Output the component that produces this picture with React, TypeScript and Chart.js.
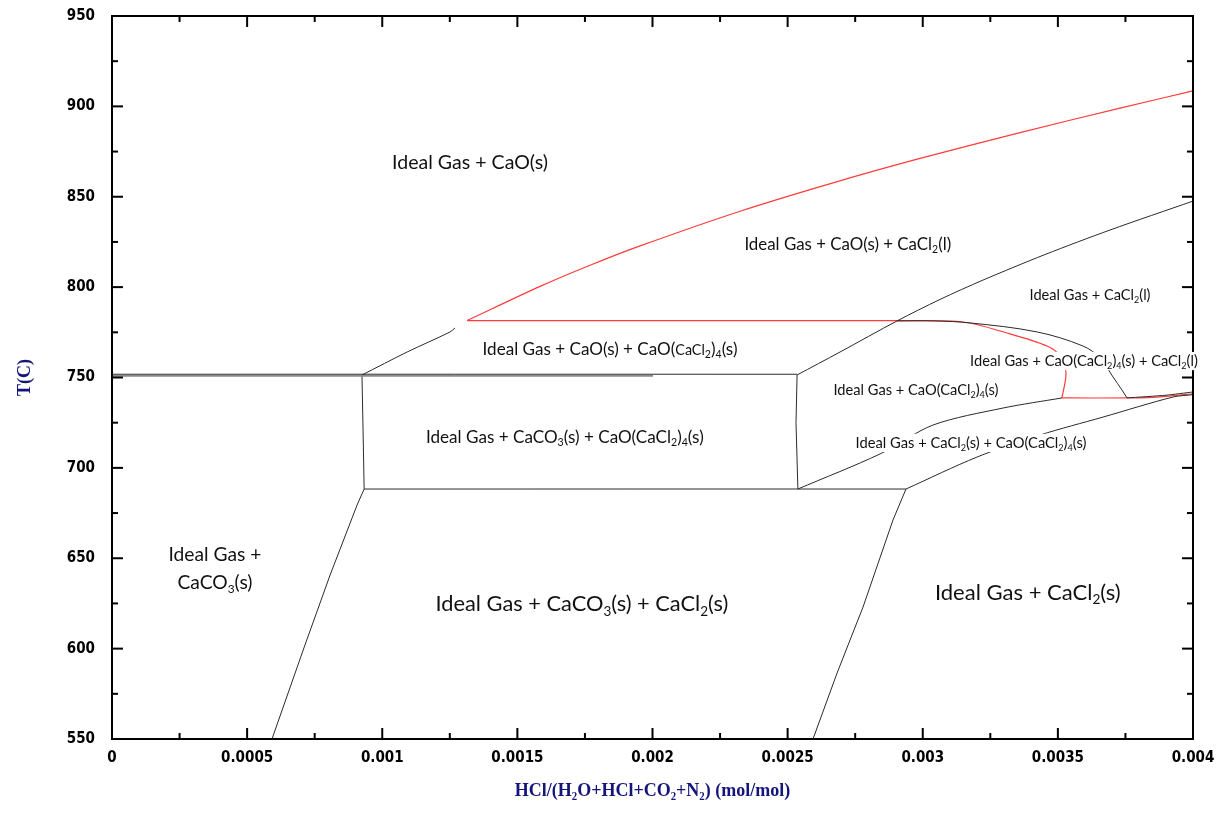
import React, { useEffect, useRef } from 'react';
import { Chart, registerables } from 'chart.js';

Chart.register(...registerables);

// ---------- axis values ----------
const X_TICKS = [0, 0.0005, 0.001, 0.0015, 0.002, 0.0025, 0.003, 0.0035, 0.004];
const X_TICK_LABELS = ['0', '0.0005', '0.001', '0.0015', '0.002', '0.0025', '0.003', '0.0035', '0.004'];
const Y_TICKS = [550, 600, 650, 700, 750, 800, 850, 900, 950];
const Y_TICK_LABELS = ['550', '600', '650', '700', '750', '800', '850', '900', '950'];
const X_MIN = 0, X_MAX = 0.004, Y_MIN = 550, Y_MAX = 950;

// ---------- phase boundaries [HCl mole fraction, T(C)] ----------
type Pt = [number, number];
const CAO_LIQ_RED: Pt[] = [
  [0.001314, 781.5], [0.001584, 800.4], [0.001769, 812.1], [0.001954, 822.8], [0.002324, 842.0],
  [0.002668, 857.7], [0.00299, 871.2], [0.00336, 885.5], [0.00373, 899.0], [0.004, 908.6],
];
const CAO_CACL4_UPPER: Pt[] = [[0.000925, 751.4], [0.001092, 764.1], [0.001251, 775.2], [0.001269, 777.4]];
const T782_RED: Pt[] = [[0.001314, 781.5], [0.002905, 781.5]];
const CACL2_LIQ_BLACK: Pt[] = [
  [0.002535, 751.4], [0.002694, 764.1], [0.002905, 781.3], [0.003064, 793.2], [0.003223, 803.9],
  [0.003452, 818.0], [0.003693, 831.6], [0.004, 847.6],
];
const T752_BLACK: Pt[] = [[0, 751.8], [0.002535, 751.8]];
const T751_GREY: Pt[] = [[0, 750.9], [0.002002, 750.9]];
const VERT_LEFT: Pt[] = [[0.000925, 751.4], [0.000929, 721], [0.000933, 688.3]];
const T688_BLACK: Pt[] = [[0.000933, 688.3], [0.002938, 688.3]];
const VERT_RIGHT: Pt[] = [[0.002535, 751.4], [0.002531, 725], [0.002538, 688.3]];
const CACO3_LOWER_LEFT: Pt[] = [[0.000933, 688.3], [0.000907, 679.5], [0.000807, 640.7], [0.000714, 602], [0.000592, 550]];
const CACL2S_LOWER_RIGHT: Pt[] = [[0.002938, 688.3], [0.00289, 671.2], [0.002779, 623], [0.002683, 586.5], [0.002594, 550]];
const CACL4_CACL2S_A: Pt[] = [[0.002538, 688.3], [0.002842, 707.7], [0.003038, 723.7], [0.003297, 733.1], [0.003515, 738.7]];
const CACL4_CACL2S_B: Pt[] = [[0.002938, 688.3], [0.003201, 706], [0.003434, 718.2], [0.003667, 728.1], [0.003926, 739.2], [0.004, 740.5]];
const EUTECTIC_RED: Pt[] = [[0.003515, 738.7], [0.00378, 738.7], [0.0039, 739.6], [0.004, 741]];
const EUTECTIC_BLACK: Pt[] = [[0.003756, 738.7], [0.0039, 740.2], [0.004, 742]];
const LIQUIDUS_BLACK: Pt[] = [
  [0.002905, 781.3], [0.003045, 781.3], [0.003175, 780.2], [0.003423, 775.2], [0.003593, 767.4],
  [0.003656, 760.8], [0.003704, 750.3], [0.003737, 743.1], [0.003756, 738.7],
];
const LIQUIDUS_RED: Pt[] = [
  [0.002905, 781.5], [0.003149, 780.7], [0.003312, 774.6], [0.00346, 767.4], [0.003508, 761.9],
  [0.00353, 752.5], [0.003515, 738.7],
];

const RED = '#ff3b3b';
const BLACK = '#2a2a2a';

const LINES: { pts: Pt[]; color: string; width: number; curve: number }[] = [
  { pts: T751_GREY, color: '#8a8a8a', width: 1.6, curve: 0 },
  { pts: T752_BLACK, color: BLACK, width: 1, curve: 0 },
  { pts: CAO_CACL4_UPPER, color: BLACK, width: 1, curve: 0.3 },
  { pts: CACL2_LIQ_BLACK, color: BLACK, width: 1, curve: 0.3 },
  { pts: VERT_LEFT, color: BLACK, width: 1, curve: 0 },
  { pts: T688_BLACK, color: BLACK, width: 1, curve: 0 },
  { pts: VERT_RIGHT, color: BLACK, width: 1, curve: 0 },
  { pts: CACO3_LOWER_LEFT, color: BLACK, width: 1, curve: 0 },
  { pts: CACL2S_LOWER_RIGHT, color: BLACK, width: 1, curve: 0 },
  { pts: CACL4_CACL2S_A, color: BLACK, width: 1, curve: 0.3 },
  { pts: CACL4_CACL2S_B, color: BLACK, width: 1, curve: 0.3 },
  { pts: EUTECTIC_BLACK, color: BLACK, width: 1, curve: 0.2 },
  { pts: LIQUIDUS_BLACK, color: BLACK, width: 1, curve: 0.35 },
  { pts: CAO_LIQ_RED, color: RED, width: 1.2, curve: 0.3 },
  { pts: T782_RED, color: RED, width: 1.2, curve: 0 },
  { pts: EUTECTIC_RED, color: RED, width: 1.2, curve: 0.2 },
  { pts: LIQUIDUS_RED, color: RED, width: 1.2, curve: 0.3 },
];

// ---------- region labels: _{..} subscript, ~{..} smaller text ----------
const REGION_LABELS: { text: string; x: number; t: number; w: number }[] = [
  { text: 'Ideal Gas + CaO(s)', x: 0.001325, t: 869.2, w: 156 },
  { text: 'Ideal Gas + CaO(s) + CaCl_{2}(l)', x: 0.002723, t: 823.9, w: 207 },
  { text: 'Ideal Gas + CaCl_{2}(l)', x: 0.003619, t: 795.6, w: 121 },
  { text: 'Ideal Gas + CaO(s) + CaO(~{CaCl}_{2})_{4}(s)', x: 0.001843, t: 765.8, w: 255 },
  { text: 'Ideal Gas + CaO(CaCl_{2})_{4}(s) + CaCl_{2}(l)', x: 0.003597, t: 759.1, w: 228 },
  { text: 'Ideal Gas + CaO(CaCl_{2})_{4}(s)', x: 0.002975, t: 743.1, w: 165 },
  { text: 'Ideal Gas + CaCO_{3}(s) + CaO(CaCl_{2})_{4}(s)', x: 0.001676, t: 717.1, w: 278 },
  { text: 'Ideal Gas + CaCl_{2}(s) + CaO(CaCl_{2})_{4}(s)', x: 0.003179, t: 713.8, w: 231 },
  { text: 'Ideal Gas +', x: 0.000381, t: 651.9, w: 93 },
  { text: 'CaCO_{3}(s)', x: 0.000381, t: 636.4, w: 75 },
  { text: 'Ideal Gas + CaCO_{3}(s) + CaCl_{2}(s)', x: 0.001739, t: 624.7, w: 293 },
  { text: 'Ideal Gas + CaCl_{2}(s)', x: 0.003389, t: 631.3, w: 186 },
];

const LABEL_FAMILY = 'Lato, "Open Sans", "Noto Sans", sans-serif';
const TICK_FAMILY = '"DejaVu Sans Condensed", "DejaVu Sans", sans-serif';
const TITLE_FAMILY = '"Liberation Serif", "Times New Roman", "DejaVu Serif", serif';
const NAVY = '#14147a';

type Seg = { t: string; k: 'n' | 'sub' | 'small' };
function parseRich(s: string): Seg[] {
  return s
    .split(/(_\{[^}]*\}|~\{[^}]*\})/)
    .filter((p) => p.length > 0)
    .map((p) =>
      p.startsWith('_{') ? { t: p.slice(2, -1), k: 'sub' as const } :
      p.startsWith('~{') ? { t: p.slice(2, -1), k: 'small' as const } :
      { t: p, k: 'n' as const });
}
function segFont(k: Seg['k'], size: number) {
  const s = k === 'sub' ? size * 0.62 : k === 'small' ? size * 0.84 : size;
  return `${s}px ${LABEL_FAMILY}`;
}
function measureRich(ctx: CanvasRenderingContext2D, segs: Seg[], size: number) {
  let w = 0;
  for (const g of segs) {
    ctx.font = segFont(g.k, size);
    w += ctx.measureText(g.t).width;
  }
  return w;
}

function midpoints(a: number[]) {
  const out: number[] = [];
  for (let i = 0; i < a.length - 1; i++) out.push((a[i] + a[i + 1]) / 2);
  return out;
}

const framePlugin = {
  id: 'frameAndLabels',
  afterDatasetsDraw(chart: any) {
    const { ctx, chartArea, scales } = chart;
    const { left, right, top, bottom } = chartArea;
    const xs = scales.x, ys = scales.y;
    ctx.save();
    ctx.strokeStyle = '#000';
    ctx.lineWidth = 2;
    ctx.strokeRect(left, top, right - left, bottom - top);
    const tick = (x1: number, y1: number, x2: number, y2: number) => {
      ctx.beginPath();
      ctx.moveTo(x1, y1);
      ctx.lineTo(x2, y2);
      ctx.stroke();
    };
    const MAJ = 11, MIN = 6;
    X_TICKS.forEach((v) => {
      const p = xs.getPixelForValue(v);
      tick(p, bottom, p, bottom - MAJ);
      tick(p, top, p, top + MAJ);
    });
    midpoints(X_TICKS).forEach((v) => {
      const p = xs.getPixelForValue(v);
      tick(p, bottom, p, bottom - MIN);
      tick(p, top, p, top + MIN);
    });
    Y_TICKS.forEach((v) => {
      const p = ys.getPixelForValue(v);
      tick(left, p, left + MAJ, p);
      tick(right, p, right - MAJ, p);
    });
    midpoints(Y_TICKS).forEach((v) => {
      const p = ys.getPixelForValue(v);
      tick(left, p, left + MIN, p);
      tick(right, p, right - MIN, p);
    });

    // region labels with white text boxes
    ctx.textBaseline = 'alphabetic';
    ctx.textAlign = 'left';
    for (const lab of REGION_LABELS) {
      const segs = parseRich(lab.text);
      const w100 = measureRich(ctx, segs, 100);
      const size = (100 * lab.w) / w100;
      const cx = xs.getPixelForValue(lab.x);
      const cy = ys.getPixelForValue(lab.t);
      const x0 = cx - lab.w / 2;
      ctx.fillStyle = '#fff';
      ctx.fillRect(x0 - 3, cy - size * 0.62, lab.w + 6, size * 1.24);
      ctx.fillStyle = '#111';
      const base = cy + size * 0.34;
      let x = x0;
      for (const g of segs) {
        ctx.font = segFont(g.k, size);
        const y = g.k === 'sub' ? base + size * 0.2 : base;
        ctx.fillText(g.t, x, y);
        x += ctx.measureText(g.t).width;
      }
    }
    ctx.restore();
  },
};

export default function App() {
  const ref = useRef<HTMLCanvasElement | null>(null);
  useEffect(() => {
    if (!ref.current) return;
    const chart = new Chart(ref.current, {
      type: 'scatter',
      data: {
        datasets: LINES.map((l) => ({
          data: l.pts.map(([x, t]) => ({ x, y: t })),
          showLine: true,
          borderColor: l.color,
          backgroundColor: l.color,
          borderWidth: l.width,
          pointRadius: 0,
          pointHoverRadius: 0,
          fill: false,
          tension: l.curve,
        })),
      },
      options: {
        animation: false,
        responsive: true,
        maintainAspectRatio: false,
        events: [],
        layout: { padding: { top: 16, right: 30, bottom: 0, left: 0 } },
        plugins: { legend: { display: false }, tooltip: { enabled: false } },
        scales: {
          x: {
            type: 'linear',
            min: X_MIN,
            max: X_MAX,
            grid: { display: false, drawTicks: false },
            border: { display: false },
            afterBuildTicks: (s: any) => { s.ticks = X_TICKS.map((v) => ({ value: v })); },
            afterFit: (s: any) => {
              s.height = 74;
              s.paddingLeft = 0; s.paddingRight = 0; s.paddingTop = 0; s.paddingBottom = 0;
            },
            ticks: {
              autoSkip: false,
              maxRotation: 0,
              padding: 12,
              color: '#000',
              font: { family: TICK_FAMILY, weight: 'bold', size: 15, lineHeight: 1 },
              callback: (_v: any, i: number) => X_TICK_LABELS[i],
            },
            title: {
              display: true,
              text: 'HCl/(H₂O+HCl+CO₂+N₂) (mol/mol)',
              color: NAVY,
              font: { family: TITLE_FAMILY, weight: 'bold', size: 18, lineHeight: 1 },
              padding: { top: 0, bottom: 13 },
            },
          },
          y: {
            type: 'linear',
            min: Y_MIN,
            max: Y_MAX,
            grid: { display: false, drawTicks: false },
            border: { display: false },
            afterBuildTicks: (s: any) => { s.ticks = Y_TICKS.map((v) => ({ value: v })); },
            afterFit: (s: any) => {
              s.width = 112;
              s.paddingLeft = 0; s.paddingRight = 0; s.paddingTop = 0; s.paddingBottom = 0;
            },
            ticks: {
              autoSkip: false,
              padding: 17,
              color: '#000',
              font: { family: TICK_FAMILY, weight: 'bold', size: 15, lineHeight: 1 },
              callback: (_v: any, i: number) => Y_TICK_LABELS[i],
            },
            title: {
              display: true,
              text: 'T(C)',
              color: NAVY,
              font: { family: TITLE_FAMILY, weight: 'bold', size: 18, lineHeight: 1 },
              padding: { top: 16, bottom: 0 },
            },
          },
        },
      } as any,
      plugins: [framePlugin],
    });
    return () => chart.destroy();
  }, []);
  return (
    <div style={{ position: 'absolute', left: 0, top: 0, width: 1223, height: 813, background: '#fff' }}>
      <canvas ref={ref} style={{ display: 'block' }} />
    </div>
  );
}
